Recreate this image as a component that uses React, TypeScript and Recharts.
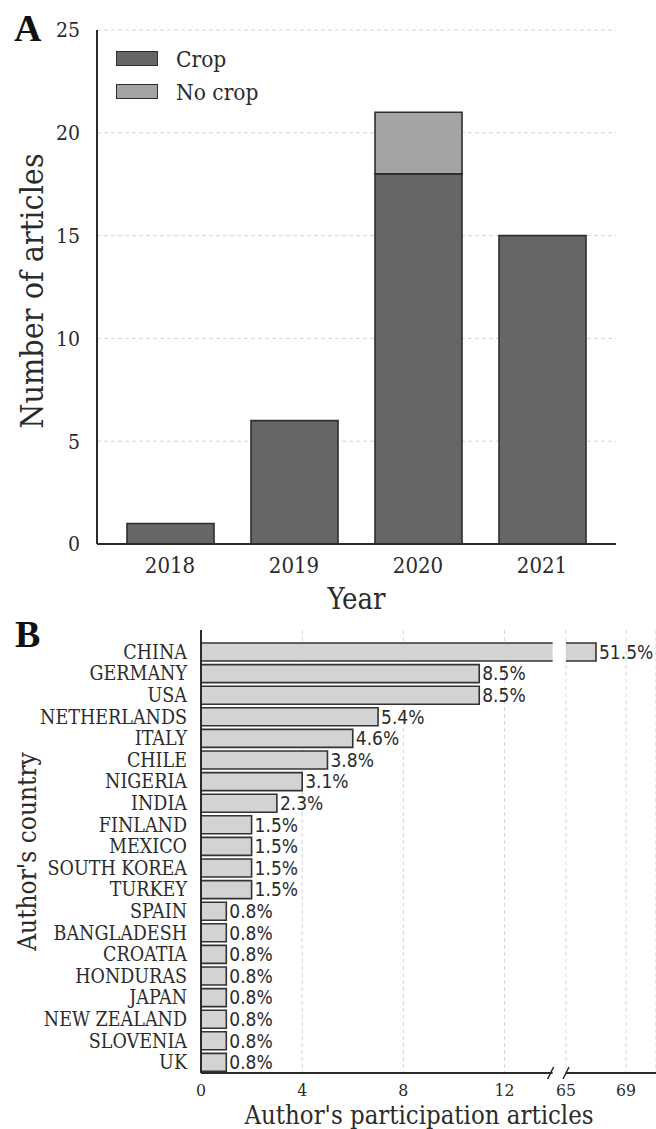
import {
  Bar,
  BarChart,
  CartesianGrid,
  LabelList,
  Legend,
  ReferenceArea,
  XAxis,
  YAxis,
} from 'recharts';

const SERIF = "'DejaVu Serif Condensed', 'DejaVu Serif', serif";
const SANS = "'DejaVu Sans Condensed', 'DejaVu Sans', sans-serif";
const INK = '#2b2b2b';
const GRID = '#d4d4d4';

/* ───────── A: articles per year ───────── */
const YEARS = ['2018', '2019', '2020', '2021'];
const CROP = [1, 6, 18, 15];
const NO_CROP = [0, 0, 3, 0];
const COUNT_TICKS = [0, 5, 10, 15, 20, 25];

/* ───────── B: author participation by country ───────── */
const COUNTRIES = [
  'CHINA', 'GERMANY', 'USA', 'NETHERLANDS', 'ITALY', 'CHILE', 'NIGERIA',
  'INDIA', 'FINLAND', 'MEXICO', 'SOUTH KOREA', 'TURKEY', 'SPAIN',
  'BANGLADESH', 'CROATIA', 'HONDURAS', 'JAPAN', 'NEW ZEALAND', 'SLOVENIA', 'UK',
];
const PARTICIPATIONS = [67, 11, 11, 7, 6, 5, 4, 3, 2, 2, 2, 2, 1, 1, 1, 1, 1, 1, 1, 1];
const PARTICIPATION_TICKS = [0, 4, 8, 12, 65, 69];

// broken x axis: 0..LOW_MAX at full scale, then a short gap, then HIGH_MIN..HIGH_MAX squeezed
const LOW_MAX = 13.9;
const HIGH_MIN = 65;
const HIGH_START = 14.43;
const HIGH_RATIO = 0.593;
const HIGH_MAX = 71;

const toAxis = (v: number) =>
  v <= LOW_MAX ? v : HIGH_START + (v - HIGH_MIN) * HIGH_RATIO;

const yearData = YEARS.map((year, i) => ({ year, crop: CROP[i], noCrop: NO_CROP[i] }));

const totalParticipations = PARTICIPATIONS.reduce((s, n) => s + n, 0);

const participationData = COUNTRIES.map((country, i) => {
  const n = PARTICIPATIONS[i];
  const broken = n > LOW_MAX;
  return {
    country,
    n,
    broken,
    low: Math.min(n, LOW_MAX),
    gap: broken ? HIGH_START - LOW_MAX : 0,
    high: broken ? toAxis(n) - HIGH_START : 0,
    share: `${((n / totalParticipations) * 100).toFixed(1)}%`,
  };
});

/* ───────── axis titles ───────── */
const yTitleA = (props: any) => {
  const vb = props.viewBox;
  const x = vb.x + 43;
  const y = vb.y + vb.height / 2 + 4;
  return (
    <text x={x} y={y} transform={`rotate(-90, ${x}, ${y})`} textAnchor="middle"
      fontFamily={SERIF} fontSize={32} fill={INK}>
      Number of articles
    </text>
  );
};

const xTitleA = (props: any) => {
  const vb = props.viewBox;
  return (
    <text x={vb.x + vb.width / 2} y={vb.y + 65} textAnchor="middle"
      fontFamily={SERIF} fontSize={29} fill={INK}>
      Year
    </text>
  );
};

const yTitleB = (props: any) => {
  const vb = props.viewBox;
  const x = vb.x + 36;
  const y = vb.y + vb.height / 2;
  return (
    <text x={x} y={y} transform={`rotate(-90, ${x}, ${y})`} textAnchor="middle"
      fontFamily={SERIF} fontSize={26} fill={INK}>
      Author's country
    </text>
  );
};

const xTitleB = (props: any) => {
  const vb = props.viewBox;
  return (
    <text x={419} y={vb.y + 51} textAnchor="middle"
      fontFamily={SERIF} fontSize={25.5} fill={INK}>
      Author's participation articles
    </text>
  );
};

/* ───────── legend for A ───────── */
function YearLegend({ payload }: any) {
  return (
    <div>
      {(payload ?? []).map((p: any) => (
        <div key={p.value} style={{ display: 'flex', alignItems: 'center', height: 33 }}>
          <span
            style={{
              width: 42,
              height: 15,
              boxSizing: 'border-box',
              background: p.color,
              border: '1.6px solid #2e2e2e',
            }}
          />
          <span style={{ marginLeft: 18, fontFamily: SERIF, fontSize: 22.5, color: INK }}>
            {p.value}
          </span>
        </div>
      ))}
    </div>
  );
}

/* ───────── bar pieces for B (open edge at the break) ───────── */
const B_FILL = '#d3d3d3';
const B_STROKE = '#333';

const lowPiece = (props: any) => {
  const { x, y, width, height, payload } = props;
  if (!width || !height) return <g />;
  const edge = payload?.broken
    ? `M${x + width},${y}H${x}V${y + height}H${x + width}`
    : `M${x},${y}H${x + width}V${y + height}H${x}Z`;
  return (
    <g>
      <rect x={x} y={y} width={width} height={height} fill={B_FILL} />
      <path d={edge} fill="none" stroke={B_STROKE} strokeWidth={1.6} />
    </g>
  );
};

const highPiece = (props: any) => {
  const { x, y, width, height } = props;
  if (!width || !height) return <g />;
  return (
    <g>
      <rect x={x} y={y} width={width} height={height} fill={B_FILL} />
      <path d={`M${x},${y}H${x + width}V${y + height}H${x}`} fill="none"
        stroke={B_STROKE} strokeWidth={1.6} />
    </g>
  );
};

const shareLabel = (onBrokenRow: boolean) => (props: any) => {
  const { index, value } = props;
  if (participationData[index]?.broken !== onBrokenRow) return null;
  const box = props.viewBox ?? props;
  return (
    <text x={box.x + box.width + 3} y={box.y + box.height / 2} dy="0.36em"
      fontFamily={SANS} fontSize={19} fill={INK}>
      {value}
    </text>
  );
};

// one piece of the broken x-axis line, with its slash mark at the break
const axisPiece = (side: 'left' | 'right') => (props: any) => {
  const { x, y, width, height } = props;
  const by = y + height;
  const sx = side === 'left' ? x + width - 2 : x;
  return (
    <g>
      <line x1={x} y1={by} x2={x + width} y2={by} stroke={INK} strokeWidth={2} />
      <line x1={sx - 3} y1={by + 6} x2={sx + 3} y2={by - 6} stroke={INK} strokeWidth={1.6} />
    </g>
  );
};

function ArticlesByYear() {
  return (
    <div style={{ position: 'absolute', left: 0, top: 0 }}>
      <BarChart
        width={656}
        height={620}
        data={yearData}
        margin={{ top: 30, right: 40, bottom: 0, left: 0 }}
        barSize={87}
      >
        <CartesianGrid vertical={false} strokeDasharray="4 3" stroke={GRID} />
        <XAxis
          dataKey="year"
          height={76}
          padding={{ left: 11, right: 12 }}
          axisLine={{ stroke: INK, strokeWidth: 2 }}
          tickLine={false}
          tickSize={0}
          tickMargin={13}
          tick={{ fontFamily: SERIF, fontSize: 22, fill: INK }}
          label={xTitleA}
        />
        <YAxis
          type="number"
          domain={[0, 25]}
          ticks={COUNT_TICKS}
          width={97}
          axisLine={{ stroke: INK, strokeWidth: 2 }}
          tickLine={false}
          tickSize={0}
          tickMargin={17}
          tick={{ fontFamily: SERIF, fontSize: 21, fill: INK }}
          label={yTitleA}
        />
        <Legend
          layout="vertical"
          verticalAlign="middle"
          align="center"
          wrapperStyle={{ left: 116, top: 42, width: 'auto' }}
          content={YearLegend}
        />
        <Bar dataKey="crop" name="Crop" stackId="y" fill="#666666" stroke="#2e2e2e"
          strokeWidth={1.6} isAnimationActive={false} />
        <Bar dataKey="noCrop" name="No crop" stackId="y" fill="#a4a4a4" stroke="#2e2e2e"
          strokeWidth={1.6} isAnimationActive={false} />
      </BarChart>
    </div>
  );
}

function ParticipationByCountry() {
  return (
    <div style={{ position: 'absolute', left: 0, top: 620 }}>
      <BarChart
        width={656}
        height={509}
        layout="vertical"
        data={participationData}
        margin={{ top: 10, right: 0, bottom: 0, left: 0 }}
        barSize={18}
      >
        <CartesianGrid horizontal={false} strokeDasharray="4 3" stroke={GRID} />
        <XAxis
          type="number"
          domain={[0, toAxis(HIGH_MAX)]}
          ticks={PARTICIPATION_TICKS.map(toAxis)}
          tickFormatter={(_: number, i: number) => String(PARTICIPATION_TICKS[i])}
          height={56}
          axisLine={false}
          tickLine={false}
          tickSize={0}
          tickMargin={11}
          tick={{ fontFamily: SERIF, fontSize: 17.5, fill: INK }}
          label={xTitleB}
        />
        <YAxis
          type="category"
          dataKey="country"
          width={201}
          interval={0}
          padding={{ top: 11, bottom: 0 }}
          axisLine={{ stroke: INK, strokeWidth: 2 }}
          tickLine={false}
          tickSize={0}
          tickMargin={14}
          tick={{ fontFamily: SERIF, fontSize: 19.5, fill: INK }}
          label={yTitleB}
        />
        <ReferenceArea x1={0} x2={LOW_MAX} shape={axisPiece('left')} />
        <ReferenceArea x1={HIGH_START} x2={toAxis(HIGH_MAX)} shape={axisPiece('right')} />
        <Bar dataKey="low" stackId="p" shape={lowPiece} isAnimationActive={false}>
          <LabelList dataKey="share" content={shareLabel(false)} />
        </Bar>
        <Bar dataKey="gap" stackId="p" fill="none" isAnimationActive={false} />
        <Bar dataKey="high" stackId="p" shape={highPiece} isAnimationActive={false}>
          <LabelList dataKey="share" content={shareLabel(true)} />
        </Bar>
      </BarChart>
    </div>
  );
}

export default function App() {
  return (
    <div style={{ position: 'relative', width: 656, height: 1129, background: '#fff' }}>
      <style>{'body{margin:0;overflow:hidden}'}</style>
      <ArticlesByYear />
      <ParticipationByCountry />
      <svg
        width={656}
        height={1129}
        style={{ position: 'absolute', left: 0, top: 0, pointerEvents: 'none' }}
      >
        <text x={14} y={41} fontFamily="'Liberation Serif', serif" fontWeight={700}
          fontSize={38} fill="#111">
          A
        </text>
        <text x={15} y={647} fontFamily="'Liberation Serif', serif" fontWeight={700}
          fontSize={38} fill="#111">
          B
        </text>
      </svg>
    </div>
  );
}
